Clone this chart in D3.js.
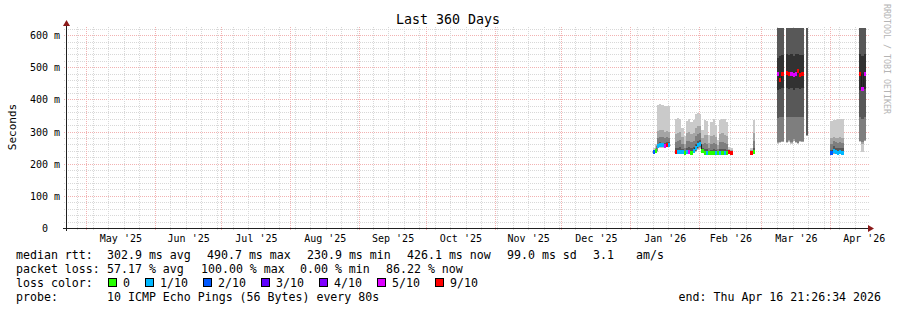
<!DOCTYPE html>
<html>
<head>
<meta charset="utf-8">
<script src="https://cdn.jsdelivr.net/npm/d3@7"></script>
<style>
  body { margin: 0; background: #fff; }
  text { font-family: "DejaVu Sans Mono", monospace; fill: #000; }
</style>
</head>
<body>
<svg id="chart" width="897" height="310"></svg>
<script>
// ---- data ----
const titleText = 'Last 360 Days'
const endTime = new Date(Date.UTC(2026, 3, 16, 21, 26, 34))
const spanDays = 360

const yTicks = [0, 100, 200, 300, 400, 500, 600]
const yTickLabels = ['0  ', '100 m', '200 m', '300 m', '400 m', '500 m', '600 m']

// one bucket per day; medians in ms, loss in pings out of 10
const sampleDays = [
  '2026-01-11', '2026-01-12', '2026-01-13', '2026-01-14', '2026-01-15', '2026-01-16', '2026-01-17', '2026-01-18',
  '2026-01-21', '2026-01-22', '2026-01-23', '2026-01-24', '2026-01-25', '2026-01-26', '2026-01-27', '2026-01-28',
  '2026-01-29', '2026-01-30', '2026-01-31',
  '2026-02-01', '2026-02-02', '2026-02-03', '2026-02-04', '2026-02-05', '2026-02-06', '2026-02-07', '2026-02-08',
  '2026-02-09', '2026-02-10', '2026-02-11', '2026-02-12', '2026-02-13', '2026-02-14', '2026-02-15',
  '2026-02-24', '2026-02-25',
  '2026-03-08', '2026-03-09', '2026-03-10', '2026-03-12', '2026-03-13', '2026-03-14', '2026-03-15', '2026-03-16',
  '2026-03-17', '2026-03-18', '2026-03-19', '2026-03-21',
  '2026-04-01', '2026-04-02', '2026-04-03', '2026-04-04', '2026-04-05', '2026-04-06',
  '2026-04-14', '2026-04-15', '2026-04-16'
]

const medianMs = [
  236, 238, 256, 258, 257, 256, 258, 257,
  235, 235, 236, 236, 234, 235, 236, 234,
  238, 248, 258,
  260, 240, 234, 233, 234, 233, 233, 232,
  232, 233, 232, 232, 233, 236, 233,
  232, 236,
  478, 460, 480, 482, 480, 478, 476, 478,
  488, 476, 480, null,
  232, 240, 236, 234, 236, 234,
  478, 433, 480
]

const lossOf10 = [
  2, 0, 1, 1, 1, 5, 9, 1,
  9, 1, 1, 1, 0, 1, 5, 0,
  1, 1, 1,
  1, 0, 0, 1, 0, 0, 0, 1,
  0, 1, 0, 1, 0, 9, 9,
  9, 0,
  5, 9, 9, 9, 9, 5, 5, 5,
  9, 9, 9, 10,
  2, 1, 1, 1, 1, 1,
  9, 5, 5
]

// the 10 pings of each bucket, sorted (values above the top are cut off)
const pingMs = [
  [233, 234, 234, 235, 235, 237, 238, 240, 243, 250],
  [234, 235, 236, 237, 237, 239, 241, 244, 250, 262],
  [248, 250, 252, 254, 255, 257, 262, 280, 302, 384],
  [250, 252, 254, 256, 257, 259, 266, 284, 306, 386],
  [250, 252, 253, 255, 256, 258, 265, 282, 304, 382],
  [249, 251, 252, 254, 255, 258, 264, 280, 300, 380],
  [252, 253, 255, 256, 257, 260, 268, 283, 302, 379],
  [251, 252, 254, 255, 256, 259, 266, 281, 300, 378],
  [230, 231, 232, 233, 234, 236, 248, 268, 292, 338],
  [230, 231, 232, 233, 234, 236, 250, 272, 296, 342],
  [231, 232, 233, 234, 235, 237, 252, 274, 298, 340],
  [231, 232, 233, 234, 235, 237, 246, 262, 282, 312],
  [230, 231, 232, 233, 233, 235, 240, 250, 262, 285],
  [230, 231, 232, 233, 234, 236, 250, 270, 296, 334],
  [231, 232, 233, 234, 235, 238, 252, 272, 298, 338],
  [230, 231, 232, 233, 233, 236, 248, 268, 292, 330],
  [232, 233, 234, 235, 236, 240, 252, 272, 295, 335],
  [236, 238, 240, 243, 246, 250, 262, 285, 310, 355],
  [244, 247, 250, 253, 256, 260, 272, 292, 318, 358],
  [246, 249, 252, 255, 258, 262, 274, 294, 318, 355],
  [232, 233, 234, 236, 238, 242, 250, 262, 280, 305],
  [229, 230, 231, 232, 233, 235, 246, 264, 290, 336],
  [229, 230, 231, 232, 232, 234, 245, 262, 288, 334],
  [229, 230, 231, 232, 233, 235, 240, 250, 265, 290],
  [229, 230, 231, 232, 232, 234, 244, 262, 286, 330],
  [229, 230, 231, 232, 232, 234, 246, 265, 290, 338],
  [228, 229, 230, 231, 231, 233, 243, 260, 282, 320],
  [228, 229, 230, 231, 231, 233, 238, 246, 258, 275],
  [229, 230, 231, 232, 232, 234, 246, 266, 292, 336],
  [228, 229, 230, 231, 231, 233, 246, 266, 294, 340],
  [228, 229, 230, 231, 231, 233, 245, 264, 290, 338],
  [229, 230, 231, 232, 232, 234, 244, 262, 286, 330],
  [232, 233, 234, 235, 235, 237, 239, 242, 246, 252],
  [230, 231, 231, 232, 232, 234, 236, 239, 243, 248],
  [229, 230, 231, 231, 232, 233, 235, 238, 242, 248],
  [230, 231, 232, 233, 235, 238, 250, 270, 296, 337],
  [262, 264, 267, 342, 428, 530, 650, 700, 700, 700],
  [265, 266, 268, 345, 432, 536, 650, 700, 700, 700],
  [266, 267, 270, 346, 434, 538, 655, 700, 700, 700],
  [264, 266, 268, 345, 436, 540, 655, 700, 700, 700],
  [268, 270, 274, 344, 432, 538, 660, 700, 700, 700],
  [262, 264, 266, 346, 434, 542, 660, 700, 700, 700],
  [270, 272, 276, 345, 430, 536, 650, 700, 700, 700],
  [264, 266, 268, 344, 434, 540, 655, 700, 700, 700],
  [262, 263, 265, 346, 436, 540, 660, 700, 700, 700],
  [268, 270, 272, 345, 432, 538, 655, 700, 700, 700],
  [266, 268, 270, 344, 434, 538, 650, 700, 700, 700],
  [286, 287, 288, 290, 700, 700, 700, 700, 700, 700],
  [228, 229, 230, 231, 231, 233, 244, 262, 280, 334],
  [230, 231, 232, 234, 236, 242, 255, 270, 284, 336],
  [230, 231, 232, 233, 234, 237, 250, 266, 280, 335],
  [229, 230, 231, 232, 233, 235, 248, 264, 280, 340],
  [230, 231, 232, 233, 234, 237, 250, 266, 282, 340],
  [229, 230, 231, 232, 233, 235, 248, 264, 280, 338],
  [268, 270, 272, 345, 430, 540, 700, 700, 700, 700],
  [236, 262, 268, 340, 425, 535, 700, 700, 700, 700],
  [270, 272, 275, 345, 432, 540, 700, 700, 700, 700]
]

const lossBins = ['0', '1/10', '2/10', '3/10', '4/10', '5/10', '9/10']
const lossColors = ['#26ff00', '#00b8ff', '#0059ff', '#5e00ff', '#7e00ff', '#dd00ff', '#ff0000']

const rowLabels = ['median rtt:', 'packet loss:', 'loss color:', 'probe:']
const rttStats = ['302.9 ms avg', '490.7 ms max', '230.9 ms min', '426.1 ms now', '99.0 ms sd', '3.1', 'am/s']
const lossStats = ['57.17 % avg', '100.00 % max', '0.00 % min', '86.22 % now']
const probeText = '10 ICMP Echo Pings (56 Bytes) every 80s'
const endText = 'end: Thu Apr 16 21:26:34 2026'
const watermark = 'RRDTOOL / TOBI OETIKER'

// ---- drawing ----
const svg = d3.select('#chart')
const startTime = new Date(endTime.getTime() - spanDays * 864e5)
const plot = {left: 67, right: 867, top: 28, bottom: 228}

const x = d3.scaleUtc().domain([startTime, endTime]).range([65.7, 865.7])
const y = d3.scaleLinear().domain([0, 622]).range([plot.bottom, plot.top])
const px = v => Math.round(v) + 0.5

const minorCol = '#d8d8d8'
const majorCol = '#f2b2b2'

svg.append('rect').attr('width', 897).attr('height', 310).attr('fill', '#fff')

const grid = svg.append('g')

// horizontal minor / major grid
d3.range(20, 621, 20).forEach(v => {
  const major = v % 100 === 0
  grid.append('line')
    .attr('x1', 64).attr('x2', 869)
    .attr('y1', px(y(v))).attr('y2', px(y(v)))
    .attr('stroke', major ? majorCol : minorCol)
    .attr('stroke-dasharray', '1,1')
})

// weekly minor lines, monthly major lines
const weeks = d3.utcSunday.range(startTime, endTime)
const months = d3.utcMonth.range(d3.utcMonth.ceil(startTime), endTime)
weeks.forEach(d => {
  grid.append('line')
    .attr('x1', px(x(d))).attr('x2', px(x(d)))
    .attr('y1', plot.top - 1).attr('y2', 231)
    .attr('stroke', minorCol).attr('stroke-dasharray', '1,1')
})
months.forEach(d => {
  grid.append('line')
    .attr('x1', px(x(d))).attr('x2', px(x(d)))
    .attr('y1', plot.top - 1).attr('y2', 231)
    .attr('stroke', majorCol).attr('stroke-dasharray', '1,1')
})

// smoke + median
svg.append('clipPath').attr('id', 'plotclip')
  .append('rect').attr('x', plot.left).attr('y', plot.top)
  .attr('width', plot.right - plot.left).attr('height', plot.bottom - plot.top)

const dataLayer = svg.append('g').attr('clip-path', 'url(#plotclip)')

const samples = sampleDays.map((s, i) => {
  const t0 = new Date(s + 'T00:00:00Z')
  return {t0: t0, t1: d3.utcDay.offset(t0, 1), med: medianMs[i], loss: lossOf10[i], pings: pingMs[i]}
})

// smokeping greys: outer ping pair lightest, median pair darkest
const smokeGrey = k => {
  const g = Math.floor(190 / 5 * (4 - k)) + 50
  return d3.rgb(g, g, g).formatHex()
}

samples.forEach(s => {
  for (let k = 0; k < 5; k++) {
    const lo = s.pings[k], hi = s.pings[9 - k]
    if (hi <= lo) continue
    dataLayer.append('rect')
      .attr('x', x(s.t0)).attr('width', x(s.t1) - x(s.t0))
      .attr('y', y(hi)).attr('height', y(lo) - y(hi))
      .attr('fill', smokeGrey(k))
      .attr('shape-rendering', 'crispEdges')
  }
})

// split into runs of consecutive days for the median line
const runs = []
samples.forEach((s, i) => {
  if (s.med == null) return
  const prev = samples[i - 1]
  if (prev && prev.med != null && +prev.t1 === +s.t0) runs[runs.length - 1].push(s)
  else runs.push([s])
})

const medLine = d3.line().x(d => d[0]).y(d => d[1]).curve(d3.curveStepAfter)
runs.forEach(run => {
  const pts = run.map(s => [x(s.t0), y(s.med)])
  const last = run[run.length - 1]
  pts.push([x(last.t1), y(last.med)])
  dataLayer.append('path')
    .attr('d', medLine(pts))
    .attr('fill', 'none').attr('stroke', '#202020').attr('stroke-width', 1)
})

const lossIndex = l => l === 0 ? 0 : l <= 5 ? l : l <= 9 ? 6 : -1
samples.forEach(s => {
  const li = lossIndex(s.loss)
  if (s.med == null || li < 0) return
  dataLayer.append('rect')
    .attr('x', x(s.t0)).attr('width', x(s.t1) - x(s.t0))
    .attr('y', y(s.med) - 2).attr('height', 4)
    .attr('fill', lossColors[li])
    .attr('shape-rendering', 'crispEdges')
})

// axes
const axisCol = '#202020'
const arrowCol = '#8b1a1a'
svg.append('line').attr('x1', 63).attr('x2', 868).attr('y1', 228.5).attr('y2', 228.5).attr('stroke', axisCol)
svg.append('line').attr('x1', 66.5).attr('x2', 66.5).attr('y1', 231).attr('y2', 24).attr('stroke', axisCol)
svg.append('path').attr('d', 'M868,225 L874,228.5 L868,232 Z').attr('fill', arrowCol)
svg.append('path').attr('d', 'M63,26 L66.5,20 L70,26 Z').attr('fill', arrowCol)

// y labels
svg.selectAll('.ytick').data(yTicks).enter().append('text')
  .attr('class', 'ytick')
  .attr('x', 60).attr('y', d => px(y(d)))
  .attr('dy', '0.36em')
  .attr('text-anchor', 'end')
  .attr('xml:space', 'preserve')
  .style('white-space', 'pre')
  .style('font-size', '10px')
  .text((d, i) => yTickLabels[i])

// month labels centred in their month
svg.selectAll('.mlab').data(months).enter().append('text')
  .attr('class', 'mlab')
  .attr('x', d => (x(d) + x(d3.utcMonth.offset(d, 1))) / 2 + 0.5)
  .attr('y', 242)
  .attr('text-anchor', 'middle')
  .style('font-size', '10px')
  .text(d => d3.utcFormat("%b '%y")(d))

// title, y title, watermark
svg.append('text').attr('x', 448).attr('y', 24).attr('text-anchor', 'middle')
  .style('font-size', '13.3px').text(titleText)
svg.append('text').attr('transform', 'translate(15.5,127) rotate(-90)').attr('text-anchor', 'middle')
  .style('font-size', '11px').text('Seconds')
svg.append('text').attr('transform', 'translate(883.5,4) rotate(90)')
  .style('font-size', '8.3px').style('fill', '#b4b4b4').text(watermark)

// legend
const legend = svg.append('g').style('font-size', '11.6px')
const rowY = [258.5, 272.5, 286.5, 300.5]
rowLabels.forEach((t, i) => legend.append('text').attr('x', 16).attr('y', rowY[i]).text(t))

const rttX = [107, 207, 307, 407, 507, 593, 636]
rttStats.forEach((t, i) => legend.append('text').attr('x', rttX[i]).attr('y', rowY[0]).text(t))
const lossX = [107, 201, 300, 386]
lossStats.forEach((t, i) => legend.append('text').attr('x', lossX[i]).attr('y', rowY[1]).text(t))

let bx = 108
lossBins.forEach((t, i) => {
  legend.append('rect').attr('x', bx + 0.5).attr('y', 278.5).attr('width', 8).attr('height', 8)
    .attr('fill', lossColors[i]).attr('stroke', '#000')
  legend.append('text').attr('x', bx + 15).attr('y', rowY[2]).text(t)
  bx = bx + 15 + t.length * 7 + 15
})

legend.append('text').attr('x', 107).attr('y', rowY[3]).text(probeText)
legend.append('text').attr('x', 881).attr('y', rowY[3]).attr('text-anchor', 'end').text(endText)
</script>
</body>
</html>
